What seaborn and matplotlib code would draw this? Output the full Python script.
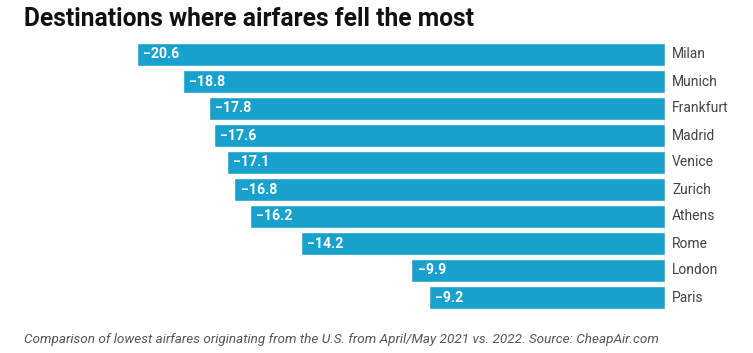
import matplotlib
matplotlib.use('Agg')
import matplotlib.pyplot as plt
import seaborn as sns
import pandas as pd

# Data
cities = ['Milan', 'Munich', 'Frankfurt', 'Madrid', 'Venice',
          'Zurich', 'Athens', 'Rome', 'London', 'Paris']
changes = [-20.6, -18.8, -17.8, -17.6, -17.1, -16.8, -16.2, -14.2, -9.9, -9.2]

df = pd.DataFrame({'city': cities, 'change': changes})

sns.set_style('white')
plt.rcParams['font.family'] = ['Roboto', 'DejaVu Sans']

W, H = 753, 353
fig = plt.figure(figsize=(W / 100, H / 100), dpi=100)
ax = fig.add_axes([137 / W, 1 - 311 / H, (665 - 137) / W, 270 / H])

sns.barplot(data=df, y='city', x='change', orient='h', color='#19a1cd',
            saturation=1, width=0.86, ax=ax)

ax.set_xlim(-20.6, 0)
ax.set_ylim(9.5, -0.5)
ax.axvline(0, color='#aaaaaa', lw=1)
for s in ax.spines.values():
    s.set_visible(False)
ax.set_xticks([])
ax.set_yticks([])
ax.set_xlabel('')
ax.set_ylabel('')

for i, (c, v) in enumerate(zip(cities, changes)):
    ax.annotate(f'\u2212{abs(v):.1f}', xy=(v, i), xytext=(4.5, 0),
                textcoords='offset points', va='center', ha='left',
                color='white', fontsize=10.2, fontweight='bold')
    ax.annotate(c, xy=(0, i), xytext=(5, 0), textcoords='offset points',
                va='center', ha='left', color='#444444', fontsize=10,
                annotation_clip=False)

fig.text(24 / W, 1 - 19 / H, 'Destinations where airfares fell the most',
         fontsize=17.7, fontweight='bold', color='#111111', va='center')
fig.text(24 / W, 1 - 339 / H,
         'Comparison of lowest airfares originating from the U.S. from April/May 2021 vs. 2022. Source: CheapAir.com',
         fontsize=9.7, style='italic', color='#555555', va='center')

fig.savefig('out.png', dpi=100)
